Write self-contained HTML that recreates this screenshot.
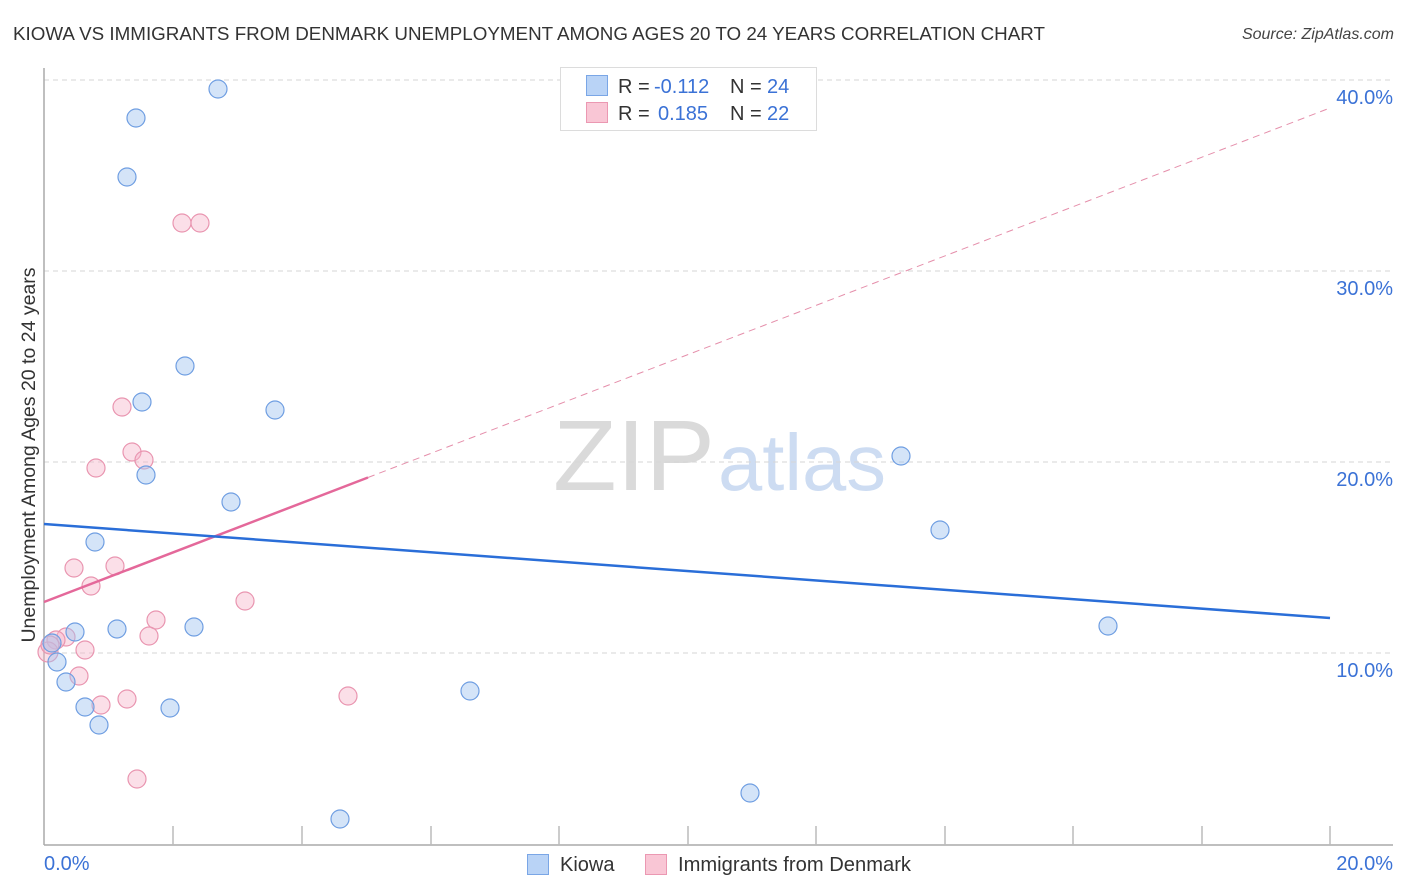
<!DOCTYPE html>
<html>
<head>
<meta charset="utf-8">
<style>
html,body{margin:0;padding:0;background:#fff;}
svg{display:block;}
text{font-family:"Liberation Sans",sans-serif;}
</style>
</head>
<body>
<svg width="1406" height="892" viewBox="0 0 1406 892" xmlns="http://www.w3.org/2000/svg">
<rect width="1406" height="892" fill="#fff"/>
<!-- title -->
<text x="13" y="40" font-size="18" fill="#333" textLength="1032" lengthAdjust="spacingAndGlyphs">KIOWA VS IMMIGRANTS FROM DENMARK UNEMPLOYMENT AMONG AGES 20 TO 24 YEARS CORRELATION CHART</text>
<text x="1394" y="39" font-size="16" fill="#444" font-style="italic" text-anchor="end">Source: ZipAtlas.com</text>

<!-- watermark -->
<text x="553" y="490" font-family="Liberation Serif, serif" font-size="100" fill="#dadada" textLength="162" lengthAdjust="spacingAndGlyphs">ZIP</text>
<text x="718" y="490" font-size="80" fill="#cddcf2" textLength="168" lengthAdjust="spacingAndGlyphs">atlas</text>

<!-- gridlines -->
<g stroke="#d6d6d6" stroke-width="1" stroke-dasharray="5,4">
<line x1="44" y1="80" x2="1393" y2="80"/>
<line x1="44" y1="271" x2="1393" y2="271"/>
<line x1="44" y1="462" x2="1393" y2="462"/>
<line x1="44" y1="653" x2="1393" y2="653"/>
</g>

<!-- axes -->
<line x1="44" y1="68" x2="44" y2="845" stroke="#aaa" stroke-width="1.5"/>
<line x1="44" y1="845" x2="1393" y2="845" stroke="#aaa" stroke-width="1.5"/>
<g stroke="#bbb" stroke-width="1.5">
<line x1="173" y1="826" x2="173" y2="845"/>
<line x1="302" y1="826" x2="302" y2="845"/>
<line x1="431" y1="826" x2="431" y2="845"/>
<line x1="559" y1="826" x2="559" y2="845"/>
<line x1="688" y1="826" x2="688" y2="845"/>
<line x1="816" y1="826" x2="816" y2="845"/>
<line x1="945" y1="826" x2="945" y2="845"/>
<line x1="1073" y1="826" x2="1073" y2="845"/>
<line x1="1202" y1="826" x2="1202" y2="845"/>
<line x1="1330" y1="826" x2="1330" y2="845"/>
</g>

<!-- axis labels -->
<g font-size="20" fill="#3b72d6">
<text x="1393" y="104" text-anchor="end">40.0%</text>
<text x="1393" y="295" text-anchor="end">30.0%</text>
<text x="1393" y="486" text-anchor="end">20.0%</text>
<text x="1393" y="677" text-anchor="end">10.0%</text>
<text x="44" y="870">0.0%</text>
<text x="1393" y="870" text-anchor="end">20.0%</text>
</g>
<text transform="translate(35,455) rotate(-90)" font-size="19.5" fill="#333" text-anchor="middle">Unemployment Among Ages 20 to 24 years</text>

<!-- pink points -->
<g fill="rgba(246,178,200,0.42)" stroke="#e995b0" stroke-width="1.2">
<circle cx="182" cy="223" r="9"/>
<circle cx="200" cy="223" r="9"/>
<circle cx="122" cy="407" r="9"/>
<circle cx="132" cy="452" r="9"/>
<circle cx="144" cy="460" r="9"/>
<circle cx="96" cy="468" r="9"/>
<circle cx="74" cy="568" r="9"/>
<circle cx="115" cy="566" r="9"/>
<circle cx="91" cy="586" r="9"/>
<circle cx="245" cy="601" r="9"/>
<circle cx="156" cy="620" r="9"/>
<circle cx="149" cy="636" r="9"/>
<circle cx="66" cy="637" r="9"/>
<circle cx="56" cy="640" r="9"/>
<circle cx="85" cy="650" r="9"/>
<circle cx="79" cy="676" r="9"/>
<circle cx="101" cy="705" r="9"/>
<circle cx="127" cy="699" r="9"/>
<circle cx="348" cy="696" r="9"/>
<circle cx="137" cy="779" r="9"/>
<circle cx="48" cy="652" r="10"/>
<circle cx="50" cy="645" r="9"/>
</g>

<!-- blue points -->
<g fill="rgba(160,196,240,0.45)" stroke="#6f9ee2" stroke-width="1.2">
<circle cx="218" cy="89" r="9"/>
<circle cx="136" cy="118" r="9"/>
<circle cx="127" cy="177" r="9"/>
<circle cx="185" cy="366" r="9"/>
<circle cx="142" cy="402" r="9"/>
<circle cx="275" cy="410" r="9"/>
<circle cx="146" cy="475" r="9"/>
<circle cx="231" cy="502" r="9"/>
<circle cx="95" cy="542" r="9"/>
<circle cx="117" cy="629" r="9"/>
<circle cx="194" cy="627" r="9"/>
<circle cx="75" cy="632" r="9"/>
<circle cx="52" cy="643" r="9"/>
<circle cx="57" cy="662" r="9"/>
<circle cx="66" cy="682" r="9"/>
<circle cx="85" cy="707" r="9"/>
<circle cx="170" cy="708" r="9"/>
<circle cx="99" cy="725" r="9"/>
<circle cx="470" cy="691" r="9"/>
<circle cx="340" cy="819" r="9"/>
<circle cx="901" cy="456" r="9"/>
<circle cx="940" cy="530" r="9"/>
<circle cx="1108" cy="626" r="9"/>
<circle cx="750" cy="793" r="9"/>
</g>

<!-- trend lines -->
<line x1="368" y1="477.5" x2="1330" y2="108" stroke="#e58fab" stroke-width="1" stroke-dasharray="7,5"/>
<line x1="44" y1="602" x2="368" y2="477.5" stroke="#e4689a" stroke-width="2.5"/>
<line x1="44" y1="524" x2="1330" y2="618" stroke="#2a6ed8" stroke-width="2.5"/>

<!-- top legend -->
<rect x="560.5" y="67.5" width="256" height="63" fill="#fff" stroke="#dcdcdc" stroke-width="1"/>
<rect x="586.5" y="75.5" width="21" height="20" fill="#b9d3f6" stroke="#7aa6e6" stroke-width="1"/>
<rect x="586.5" y="102.5" width="21" height="20" fill="#f9c6d5" stroke="#eb98b2" stroke-width="1"/>
<g font-size="20">
<text x="618" y="93" fill="#333">R =</text>
<text x="654" y="93" fill="#3b72d6">-0.112</text>
<text x="730" y="93" fill="#333">N =</text>
<text x="767" y="93" fill="#3b72d6">24</text>
<text x="618" y="120" fill="#333">R =</text>
<text x="658" y="120" fill="#3b72d6">0.185</text>
<text x="730" y="120" fill="#333">N =</text>
<text x="767" y="120" fill="#3b72d6">22</text>
</g>

<!-- bottom legend -->
<rect x="527.5" y="854.5" width="21" height="20" fill="#b9d3f6" stroke="#7aa6e6" stroke-width="1"/>
<text x="560" y="871" font-size="20" fill="#333">Kiowa</text>
<rect x="645.5" y="854.5" width="21" height="20" fill="#f9c6d5" stroke="#eb98b2" stroke-width="1"/>
<text x="678" y="871" font-size="20" fill="#333" textLength="233" lengthAdjust="spacingAndGlyphs">Immigrants from Denmark</text>
</svg>
</body>
</html>
